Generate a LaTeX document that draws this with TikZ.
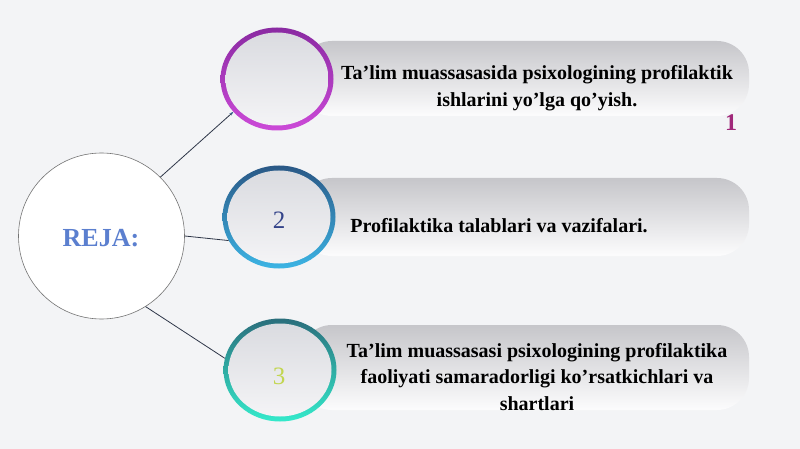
\documentclass[tikz,border=0pt]{standalone}
\usepackage{fontspec}
\setmainfont{Liberation Serif}
\usetikzlibrary{shapes.geometric,arrows.meta}
\definecolor{bg}{HTML}{F3F4F6}
\definecolor{bandtop}{HTML}{C6C6CA}
\definecolor{bandbot}{HTML}{FCFCFD}
\definecolor{innertop}{HTML}{DADBE0}
\definecolor{innerbot}{HTML}{F4F4F6}
\definecolor{pA}{HTML}{8A2AA2}
\definecolor{pB}{HTML}{CC4AD8}
\definecolor{bA}{HTML}{2A5886}
\definecolor{bB}{HTML}{3CB4E4}
\definecolor{gA}{HTML}{2A6E7C}
\definecolor{gB}{HTML}{34EACB}
\definecolor{linec}{HTML}{2E3648}
\definecolor{rejac}{HTML}{5B7FCF}
\definecolor{onec}{HTML}{A0287A}
\definecolor{twoc}{HTML}{34448A}
\definecolor{threec}{HTML}{C2D650}
\tikzset{
  band/.style={rounded corners=32pt, top color=bandtop, bottom color=bandbot},
  ring/.style={ellipse, inner sep=0pt, minimum width=113pt, minimum height=103pt},
  hole/.style={ellipse, inner sep=0pt, minimum width=103pt, minimum height=93pt,
     top color=innertop, bottom color=innerbot},
  itemtext/.style={font=\bfseries\fontsize{20}{26.5}\selectfont, align=center, text=black},
  conn/.style={draw=linec, line width=0.8pt}
}
\begin{document}
\begin{tikzpicture}[x=1pt,y=-1pt]
\useasboundingbox (0,0) rectangle (800,449);
\fill[bg] (0,0) rectangle (800,449);
% bands
\shade[band] (300,41) -- (749,41) -- (749,116) -- (300,116) -- cycle;
\shade[band] (300,178) -- (749,178) -- (749,256) -- (300,256) -- cycle;
\shade[band] (300,325) -- (749,325) -- (749,410) -- (300,410) -- cycle;
% rings
\node[ring, top color=pA, bottom color=pB] (c1) at (277,79) {};
\node[hole] (h1) at (277,79) {};
\node[ring, top color=bA, bottom color=bB] (c2) at (279,217) {};
\node[hole] (h2) at (279,217) {};
\node[ring, top color=gA, bottom color=gB] (c3) at (280,370) {};
\node[hole] (h3) at (280,370) {};
% central circle
\node[circle, draw=black!55, line width=0.6pt, fill=white, minimum size=166pt, inner sep=0pt] (reja) at (101.5,236) {};
\node[font=\bfseries\fontsize{26}{30}\selectfont, text=rejac] (rejalbl) at (101,238) {REJA:};
% connectors
\draw[conn, -{Stealth[length=4pt,width=3pt,color=bA]}] (reja.45) -- (c1.217);
\draw[conn] (reja.0) -- (c2.205);
\draw[conn] (reja.302) -- (c3.168);
% numbers
\node[font=\bfseries\fontsize{24}{28}\selectfont, text=onec] (n1) at (731,123) {1};
\node[font=\fontsize{25}{28}\selectfont, text=twoc] (n2) at (279,220) {2};
\node[font=\fontsize{25}{28}\selectfont, text=threec] (n3) at (279,376) {3};
% texts
\node[itemtext] (t1) at (537,88) {Ta’lim muassasasida psixologining profilaktik\\ishlarini yo’lga qo’yish.};
\node[itemtext] (t2) at (499,226) {Profilaktika talablari va vazifalari.};
\node[itemtext] (t3) at (537,377) {Ta’lim muassasasi psixologining profilaktika\\faoliyati samaradorligi ko’rsatkichlari va\\shartlari};
\end{tikzpicture}
\end{document}
